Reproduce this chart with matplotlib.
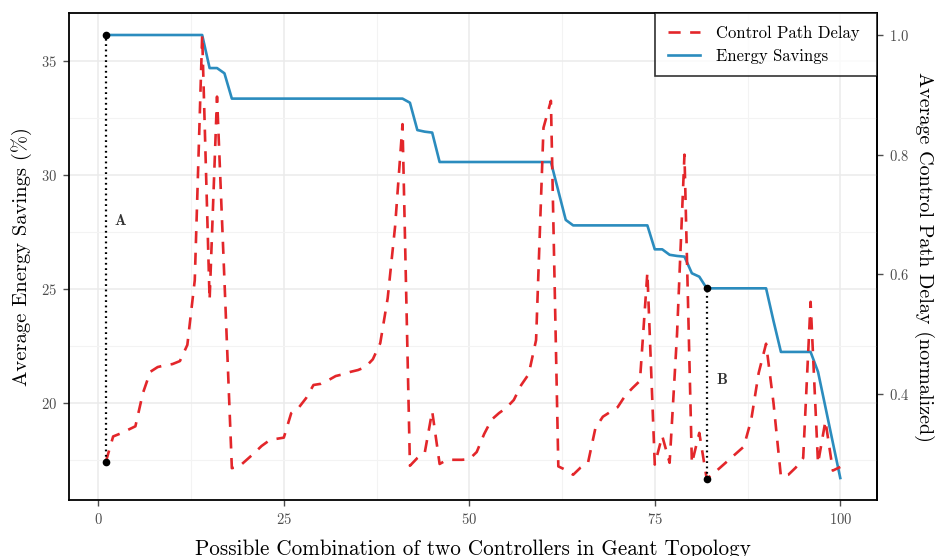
import matplotlib
matplotlib.use("Agg")
import matplotlib.pyplot as plt
from matplotlib.ticker import MultipleLocator
import numpy as np

plt.rcParams['font.family'] = ['cmr10', 'DejaVu Serif']
plt.rcParams['axes.formatter.use_mathtext'] = True
plt.rcParams['mathtext.fontset'] = 'cm'

# ---------------- data ----------------
combinations = list(range(1, 101))

energy_savings = [
    36.14, 36.14, 36.14, 36.14, 36.14, 36.14, 36.14, 36.14, 36.14, 36.14,
    36.14, 36.14, 36.14, 36.14, 34.69, 34.69, 34.46, 33.35, 33.35, 33.35,
    33.35, 33.35, 33.35, 33.35, 33.35, 33.35, 33.35, 33.35, 33.35, 33.35,
    33.35, 33.35, 33.35, 33.35, 33.35, 33.35, 33.35, 33.35, 33.35, 33.35,
    33.35, 33.17, 31.97, 31.90, 31.86, 30.57, 30.57, 30.57, 30.57, 30.57,
    30.57, 30.57, 30.57, 30.57, 30.57, 30.57, 30.57, 30.57, 30.57, 30.57,
    30.57, 29.30, 28.03, 27.79, 27.79, 27.79, 27.79, 27.79, 27.79, 27.79,
    27.79, 27.79, 27.79, 27.79, 26.74, 26.74, 26.50, 26.45, 26.42, 25.69,
    25.54, 25.03, 25.03, 25.03, 25.03, 25.03, 25.03, 25.03, 25.03, 25.03,
    23.60, 22.24, 22.24, 22.24, 22.24, 22.24, 21.37, 19.82, 18.26, 16.71,
]

control_path_delay = [
    0.286, 0.329, 0.334, 0.340, 0.346, 0.401, 0.437, 0.445, 0.448, 0.450,
    0.455, 0.482, 0.590, 1.000, 0.557, 0.897, 0.590, 0.276, 0.279, 0.290,
    0.301, 0.313, 0.322, 0.325, 0.327, 0.368, 0.377, 0.393, 0.415, 0.417,
    0.423, 0.430, 0.433, 0.437, 0.440, 0.445, 0.458, 0.485, 0.560, 0.680,
    0.851, 0.280, 0.293, 0.302, 0.371, 0.283, 0.290, 0.290, 0.290, 0.291,
    0.303, 0.333, 0.357, 0.368, 0.377, 0.390, 0.415, 0.433, 0.490, 0.845,
    0.890, 0.279, 0.273, 0.265, 0.277, 0.285, 0.343, 0.362, 0.370, 0.378,
    0.397, 0.410, 0.422, 0.603, 0.282, 0.330, 0.285, 0.500, 0.800, 0.284,
    0.335, 0.258, 0.268, 0.279, 0.290, 0.301, 0.312, 0.357, 0.435, 0.484,
    0.385, 0.262, 0.265, 0.277, 0.293, 0.554, 0.284, 0.355, 0.272, 0.278,
]

markers_x = [1, 82]
marker_labels = ["A", "B"]
marker_label_pos = [(3, 28.0), (84, 21.0)]

x_ticks = [0, 25, 50, 75, 100]
y_left_ticks = [20, 25, 30, 35]
y_right_ticks = [0.4, 0.6, 0.8, 1.0]

# delay (normalized) <-> energy-savings scale mapping used for the secondary axis
SCALE = 26.24
OFFSET = 9.90


def d2e(d):
    return np.asarray(d) * SCALE + OFFSET


def e2d(e):
    return (np.asarray(e) - OFFSET) / SCALE


RED = '#E3262A'
BLUE = '#2B8CBE'
GRID_MAJOR = '#EBEBEB'
GRID_MINOR = '#F3F3F3'
TICK_COLOR = '#4D4D4D'

fig = plt.figure(figsize=(9.44, 5.56), dpi=100)
ax = fig.add_axes([69 / 944, 1 - 500 / 556, (877 - 69) / 944, (500 - 13) / 556])

x = np.array(combinations)
energy = np.array(energy_savings)
delay = np.array(control_path_delay)

# Lines
ax.plot(x, energy, color=BLUE, lw=1.9, solid_joinstyle='round', zorder=3,
        label='Energy Savings')
ax.plot(x, d2e(delay), color=RED, lw=1.9, linestyle=(0, (4.6, 3.6)), zorder=4,
        label='Control Path Delay')

# Markers A and B
for mx, lab, (tx, ty) in zip(markers_x, marker_labels, marker_label_pos):
    i = combinations.index(mx)
    top = energy[i]
    bot = d2e(delay[i])
    ax.plot([mx, mx], [bot, top], color='black', lw=1.6,
            linestyle=(0, (0.8, 1.6)), zorder=5)
    ax.plot([mx, mx], [bot, top], 'o', color='black', ms=4.5, zorder=6)
    ax.text(tx, ty, lab, fontsize=11, color='#333333', ha='center', va='center',
            family=['cmb10', 'DejaVu Serif'], zorder=6)

ax.set_xlim(-3.95, 104.95)
ax.set_ylim(15.746, 37.105)

ax.set_xticks(x_ticks)
ax.set_yticks(y_left_ticks)
ax.xaxis.set_minor_locator(MultipleLocator(12.5))
ax.yaxis.set_minor_locator(MultipleLocator(2.5))
ax.grid(which='major', color=GRID_MAJOR, lw=1.1, zorder=0)
ax.grid(which='minor', color=GRID_MINOR, lw=0.8, zorder=0)
ax.set_axisbelow(True)
ax.tick_params(which='minor', length=0)
ax.tick_params(which='major', direction='out', length=4.5, width=1.0,
               color=TICK_COLOR, labelcolor=TICK_COLOR, labelsize=10.5, pad=4)

for sp in ax.spines.values():
    sp.set_linewidth(1.3)
    sp.set_color('black')

ax.set_xlabel('Possible Combination of two Controllers in Geant Topology',
              fontsize=15.2)
ax.set_ylabel('Average Energy Savings (%)', fontsize=14.8)
ax.xaxis.set_label_coords(0.5, -0.082)
ax.yaxis.set_label_coords(-0.046, 0.5)

sec = ax.secondary_yaxis('right', functions=(e2d, d2e))
sec.set_yticks(y_right_ticks)
sec.tick_params(which='major', direction='out', length=4.5, width=1.0,
                color=TICK_COLOR, labelcolor=TICK_COLOR, labelsize=10.5, pad=4)
sec.tick_params(which='minor', length=0)
sec.spines['right'].set_linewidth(1.3)
sec.set_ylabel('Average Control Path Delay (normalized)', fontsize=14.5,
               rotation=270, labelpad=18)

handles, labels = ax.get_legend_handles_labels()
leg_x0 = (655 - 69) / 808
leg = ax.legend(handles[::-1], labels[::-1], loc='upper left',
                bbox_to_anchor=(leg_x0, 0.5, 1.0 - leg_x0, 0.5), mode='expand',
                borderaxespad=0, fontsize=12,
                frameon=True, fancybox=False, handlelength=1.95,
                borderpad=0.75, labelspacing=0.45, handletextpad=0.95)
leg.get_frame().set_edgecolor('black')
leg.get_frame().set_linewidth(1.2)
leg.set_zorder(10)

fig.savefig('out.png', dpi=100)
